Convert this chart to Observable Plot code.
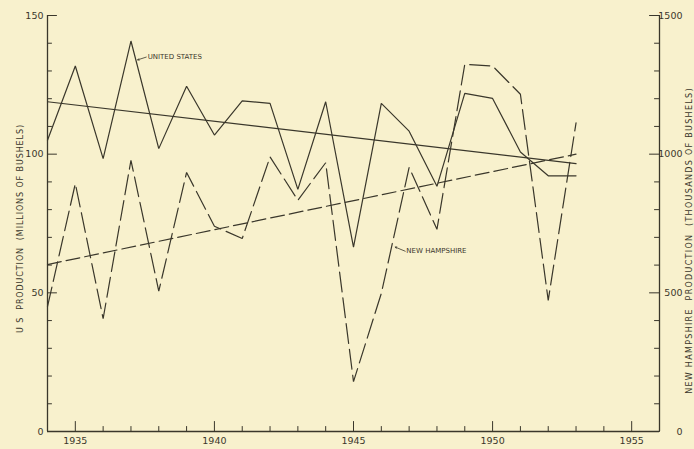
<!DOCTYPE html>
<html><head><meta charset="utf-8">
<script src="https://cdn.jsdelivr.net/npm/d3@7"></script>
<script src="https://cdn.jsdelivr.net/npm/@observablehq/plot@0.6"></script>
<style>
html,body{margin:0;padding:0;background:#f8f1cd;}
svg{display:block}
</style>
</head><body><div id="chart"></div>
<script>
// Data
const years = [1934,1935,1936,1937,1938,1939,1940,1941,1942,1943,1944,1945,1946,1947,1948,1949,1950,1951,1952,1953];
const usProduction = [105,131.8,98.4,140.8,102,124.5,106.9,119.2,118.3,87.3,118.9,66.5,118.3,108.3,88.4,121.9,120.1,100.8,92.2,92.2]; // millions of bushels
const nhProduction = [450,894,407,978,506,934,740,696,990,834,969,180,498,952,729,1324,1318,1216,473,1113]; // thousands of bushels
const usTrend = [{year:1934, value:118.9},{year:1953, value:96.6}];
const nhTrend = [{year:1934, value:602},{year:1953, value:1000}];
const leftMajor = [0,50,100,150];
const leftMinor = [10,20,30,40,60,70,80,90,110,120,130,140];
const rightMajor = [0,500,1000,1500];
const rightMinor = [100,200,300,400,600,700,800,900,1100,1200,1300,1400];
const yearMajor = [1935,1940,1945,1950,1955];
const yearMinor = [1936,1937,1938,1939,1941,1942,1943,1944,1946,1947,1948,1949,1951,1952,1953,1954];
const seriesLabels = [
  {text:"UNITED STATES", year:1937.6, value:135, fromYear:1937.55, fromValue:135, toYear:1937.24, toValue:134},
  {text:"NEW HAMPSHIRE", year:1946.9, value:65, fromYear:1946.86, fromValue:65, toYear:1946.5, toValue:66.5}
];
const leftTitle = "U S  PRODUCTION  (MILLIONS OF BUSHELS)";
const rightTitle = "NEW HAMPSHIRE  PRODUCTION  (THOUSANDS OF BUSHELS)";

const us = years.map((y,i)=>({year:y, value:usProduction[i]}));
const nh = years.map((y,i)=>({year:y, value:nhProduction[i]}));

const ink = "#3a372b";
const tickShape = {draw(context, l){ context.moveTo(0,0); context.lineTo(0,-l); }};
const font = "DejaVu Sans, sans-serif";

const chart = Plot.plot({
  width: 694,
  height: 449,
  marginLeft: 47,
  marginRight: 35,
  marginTop: 15,
  marginBottom: 18,
  style: {background: "#f8f1cd", fontFamily: font, color: ink},
  x: {domain: [1934, 1956], axis: null},
  y: {domain: [0, 150], axis: null},
  marks: [
    // axis lines
    Plot.ruleX([1934, 1956], {stroke: ink, strokeWidth: 1.3}),
    Plot.ruleY([0], {stroke: ink, strokeWidth: 1.3}),
    // left ticks
    Plot.vector(leftMajor, {y: d=>d, frameAnchor: "left", rotate: 90, anchor: "start", length: 9, shape: tickShape, stroke: ink, strokeWidth: 1}),
    Plot.vector(leftMinor, {y: d=>d, frameAnchor: "left", rotate: 90, anchor: "start", length: 4, shape: tickShape, stroke: ink, strokeWidth: 1}),
    // right ticks
    Plot.vector(rightMajor, {y: d=>d/10, frameAnchor: "right", rotate: -90, anchor: "start", length: 10, shape: tickShape, stroke: ink, strokeWidth: 1}),
    Plot.vector(rightMinor, {y: d=>d/10, frameAnchor: "right", rotate: -90, anchor: "start", length: 5, shape: tickShape, stroke: ink, strokeWidth: 1}),
    // bottom ticks
    Plot.vector(yearMajor, {x: d=>d, frameAnchor: "bottom", rotate: 0, anchor: "start", length: 10, shape: tickShape, stroke: ink, strokeWidth: 1}),
    Plot.vector(yearMinor, {x: d=>d, frameAnchor: "bottom", rotate: 0, anchor: "start", length: 5, shape: tickShape, stroke: ink, strokeWidth: 1}),
    // tick labels
    Plot.text(leftMajor, {y: d=>d, frameAnchor: "left", text: d=>String(d), textAnchor: "end", dx: -4, fontSize: 9.5, fill: ink}),
    Plot.text(rightMajor, {y: d=>d/10, frameAnchor: "right", text: d=>String(d), textAnchor: "end", dx: 23, fontSize: 9.5, fill: ink}),
    Plot.text(yearMajor, {x: d=>d, frameAnchor: "bottom", text: d=>String(d), dy: 12, fontSize: 9.5, fill: ink}),
    // axis titles
    Plot.text([leftTitle], {frameAnchor: "left", textAnchor: "middle", rotate: -90, dx: -27, dy: 5, fontSize: 8, fill: ink, text: d=>d}),
    Plot.text([rightTitle], {frameAnchor: "right", textAnchor: "middle", rotate: -90, dx: 30, dy: 17, fontSize: 8, fill: ink, text: d=>d}),
    // trend lines
    Plot.line(usTrend, {x: "year", y: "value", stroke: ink, strokeWidth: 1.2}),
    Plot.line(nhTrend, {x: "year", y: d=>d.value/10, stroke: ink, strokeWidth: 1.2, strokeDasharray: "14,5"}),
    // series
    Plot.line(us, {x: "year", y: "value", stroke: ink, strokeWidth: 1.2, strokeLinejoin: "miter"}),
    Plot.line(nh, {x: "year", y: d=>d.value/10, stroke: ink, strokeWidth: 1.2, strokeDasharray: "20,6", strokeLinejoin: "miter"}),
    // labels
    Plot.arrow(seriesLabels, {x1: "fromYear", y1: "fromValue", x2: "toYear", y2: "toValue", stroke: ink, strokeWidth: 0.8, headLength: 3}),
    Plot.text(seriesLabels, {x: "year", y: "value", text: "text", textAnchor: "start", fontSize: 7, fill: ink})
  ]
});
chart.querySelectorAll("text").forEach(t => {
  if (t.textContent === rightTitle) t.style.letterSpacing = "1.3px";
  if (t.textContent === leftTitle) t.style.letterSpacing = "0.9px";
});
document.getElementById("chart").append(chart);
</script>
</body></html>
